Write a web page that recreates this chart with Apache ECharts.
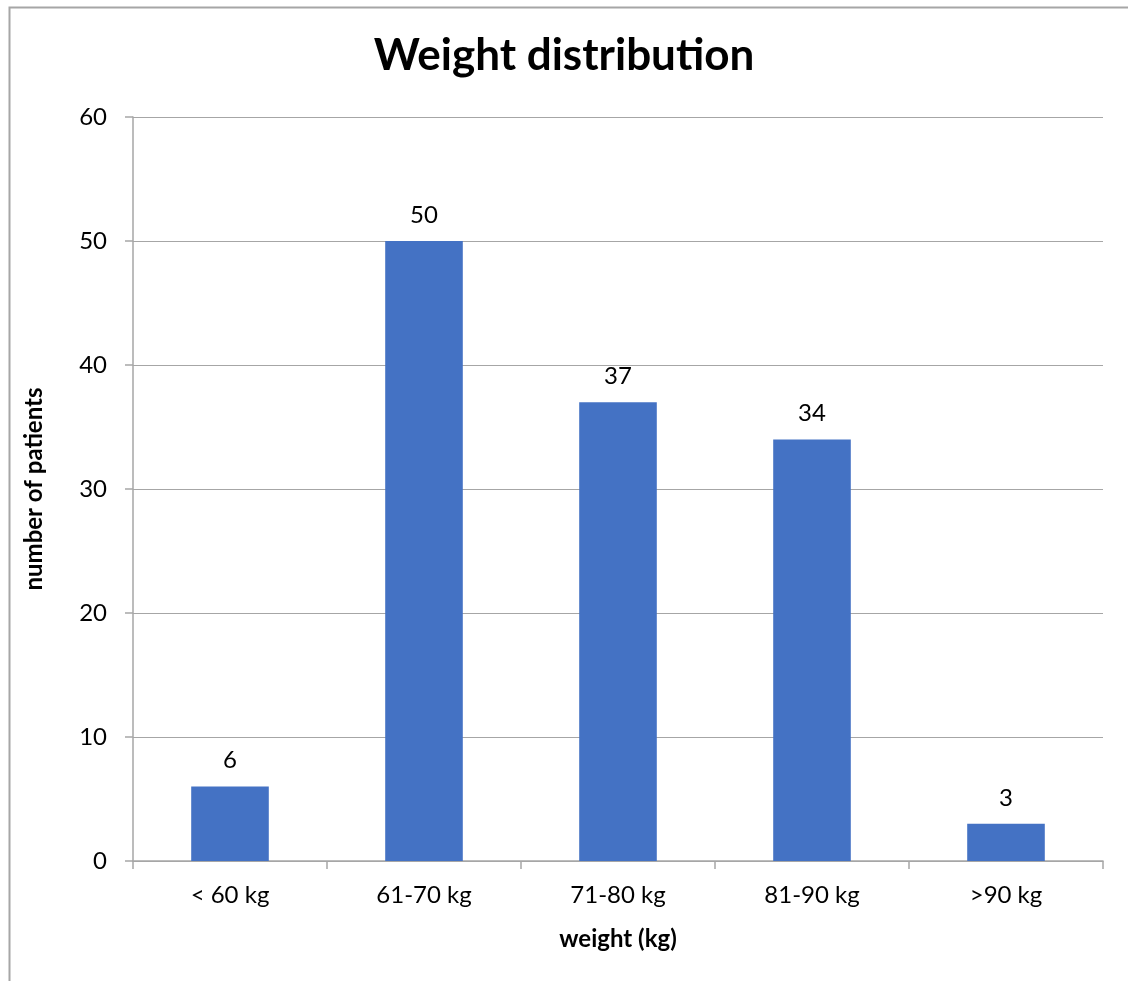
<!DOCTYPE html>
<html>
<head>
<meta charset="utf-8">
<script src="https://cdn.jsdelivr.net/npm/echarts@6/dist/echarts.min.js"></script>
<style>html,body{margin:0;padding:0;background:#fff;}#c{width:1128px;height:981px;}</style>
</head>
<body>
<div id="c"></div>
<script>
const categories = ['< 60 kg', '61-70 kg', '71-80 kg', '81-90 kg', '>90 kg'];
const patients = [6, 50, 37, 34, 3];
const yTicks = { min: 0, max: 60, interval: 10 };

const FONT = 'Lato, "Open Sans", sans-serif';
const chart = echarts.init(document.getElementById('c'));
chart.setOption({
  animation: false,
  backgroundColor: '#fff',
  graphic: [{
    type: 'rect', left: 7, top: 5, shape: { width: 1200, height: 1100 },
    style: { fill: 'none', stroke: '#A6A6A6', lineWidth: 2 }, silent: true
  }],
  title: {
    text: 'Weight distribution', left: 'center', top: 29,
    textStyle: { fontFamily: FONT, fontWeight: 'bold', fontSize: 44, color: '#000' }
  },
  grid: { left: 133, right: 25, top: 117, bottom: 120 },
  xAxis: {
    type: 'category', data: categories,
    name: 'weight (kg)', nameLocation: 'middle', nameGap: 66,
    nameTextStyle: { fontFamily: FONT, fontWeight: 'bold', fontSize: 24, color: '#000' },
    axisLine: { lineStyle: { color: '#A6A6A6', width: 1.5 } },
    axisTick: { show: true, length: 8, lineStyle: { color: '#A6A6A6', width: 1.5 } },
    axisLabel: { fontFamily: FONT, fontSize: 24, color: '#000', margin: 22 }
  },
  yAxis: {
    type: 'value', min: yTicks.min, max: yTicks.max, interval: yTicks.interval,
    name: 'number of patients', nameLocation: 'middle', nameGap: 87, nameRotate: 90,
    nameTextStyle: { fontFamily: FONT, fontWeight: 'bold', fontSize: 24, color: '#000' },
    axisLine: { show: true, lineStyle: { color: '#A6A6A6', width: 1.5 } },
    axisTick: { show: true, length: 8, lineStyle: { color: '#A6A6A6', width: 1.5 } },
    axisLabel: { fontFamily: FONT, fontSize: 24, color: '#000', margin: 26 },
    splitLine: { lineStyle: { color: '#A6A6A6', width: 1 } }
  },
  series: [{
    type: 'bar', data: patients, barWidth: '40%',
    itemStyle: { color: '#4472C4' },
    label: { show: true, position: 'top', distance: 14, fontFamily: FONT, fontSize: 24, color: '#000' }
  }]
});
</script>
</body>
</html>
